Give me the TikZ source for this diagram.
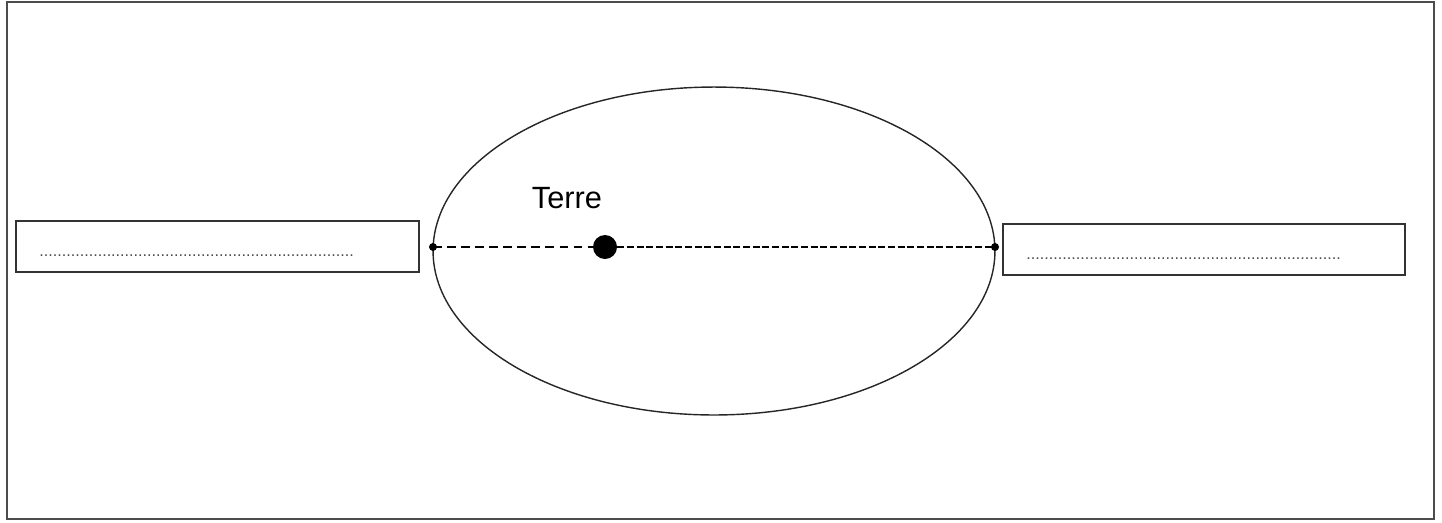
\documentclass[tikz,border=0pt]{standalone}
\usepackage{fontspec}
\setmainfont{Liberation Sans}
\usetikzlibrary{shapes.geometric}
\tikzset{
  label box/.style={draw=black!80, line width=1pt, minimum width=8.05cm, minimum height=1.02cm, inner sep=0pt},
  fill dots/.style={text=black!70, font=\fontsize{9.2}{10}\selectfont, inner sep=0pt, anchor=base west},
  end dot/.style={circle, fill=black, inner sep=0pt, minimum size=0.16cm}}
\newcommand{\dotrow}{......................................................................}

\begin{document}
\begin{tikzpicture}[x=0.02cm, y=-0.02cm]
	\useasboundingbox (0,0) rectangle (1442,522);
	\draw [black!70, line width=1.1pt] (7,2) rectangle (1434,519);
	% orbite
	\node (orbit) [draw=black!85, line width=0.8pt, ellipse, minimum width=11.24cm, minimum height=6.56cm, inner sep=0pt] at (714,251) {};
	\coordinate (perih) at (433,247);
	\coordinate (aph) at (995,247);
	\node (earth) [circle, fill=black, inner sep=0pt, minimum size=0.48cm] at (605,247) {};
	\draw [dashed, dash pattern=on 5pt off 3pt, line width=0.6pt] (perih) -- (earth);
	\draw [dashed, dash pattern=on 4pt off 1.5pt, line width=0.6pt] (earth) -- (aph);
	\node (pdot) [end dot] at (perih) {};\node (adot) [end dot] at (aph) {};
	\node (terre) at (567,198) {\fontsize{17.5}{20}\selectfont Terre};
	% cadres
	\node (leftbox) [label box] at (217.5,246.5) {};
	\node (rightbox) [label box] at (1204,249.5) {};
	\node (leftdots) [fill dots] at (39,256) {\dotrow};
	\node (rightdots) [fill dots] at (1026,259) {\dotrow};
\end{tikzpicture}
\end{document}
